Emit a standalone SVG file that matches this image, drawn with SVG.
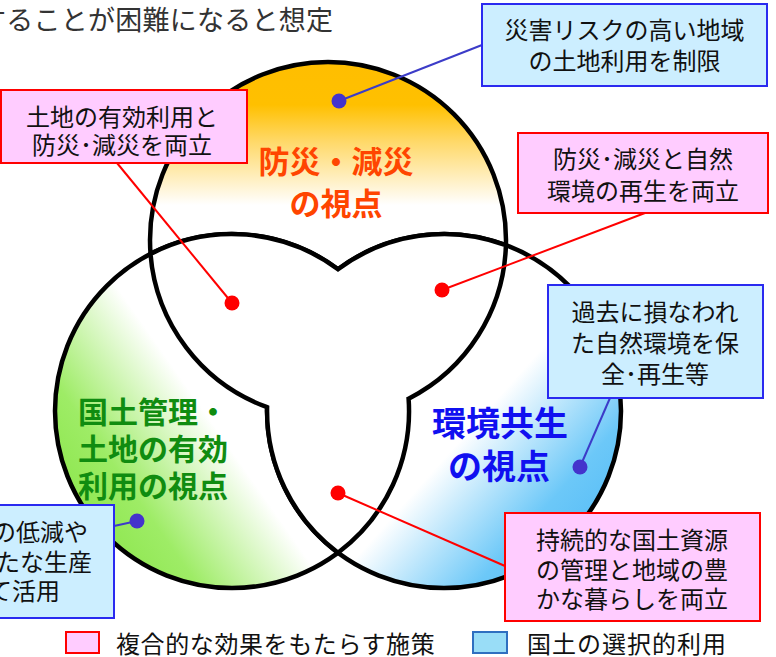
<svg xmlns="http://www.w3.org/2000/svg" width="776" height="657" viewBox="0 0 776 657">
<defs>
<linearGradient id="gT" gradientUnits="userSpaceOnUse" x1="0" y1="62" x2="0" y2="205">
<stop offset="0" stop-color="#FFBE00"/><stop offset="0.3" stop-color="#FFC000"/><stop offset="0.55" stop-color="#FFD866"/><stop offset="1" stop-color="#FFFFFF"/>
</linearGradient>
<linearGradient id="gL" gradientUnits="userSpaceOnUse" x1="60" y1="580" x2="260" y2="440">
<stop offset="0" stop-color="#7FE23A"/><stop offset="0.45" stop-color="#9EEC66"/><stop offset="0.88" stop-color="#FFFFFF"/>
</linearGradient>
<linearGradient id="gR" gradientUnits="userSpaceOnUse" x1="610" y1="580" x2="430" y2="420">
<stop offset="0" stop-color="#4AB6F6"/><stop offset="0.4" stop-color="#6CC8F8"/><stop offset="0.85" stop-color="#FFFFFF"/>
</linearGradient>
<style>
.c{stroke:#000;stroke-width:4.5}
.pk{fill:#FFCCFF;stroke:#FF0000;stroke-width:2}
.bl{fill:#CCEEFF;stroke:#2A2AF0;stroke-width:2}
.t{font-family:"Noto Sans CJK JP","Noto Sans",sans-serif;font-size:24px;fill:#111;text-anchor:middle}
.big{font-family:"Noto Sans CJK JP","Noto Sans",sans-serif;font-weight:bold;text-anchor:middle}
.rl{stroke:#FF0000;stroke-width:2;fill:none}
.bline{stroke:#3C3CC8;stroke-width:2;fill:none}
.rd{fill:#FF0000}
.bd{fill:#4433CC}
</style>
</defs>
<text x="-21" y="30" font-family="'Noto Sans CJK JP',serif" font-weight="normal" font-size="27" fill="#333" textLength="354">することが困難になると想定</text>
<g id="circles">
<circle id="circle-top" class="c" cx="328" cy="240" r="178" fill="url(#gT)"/>
<circle id="circle-left" class="c" cx="232" cy="411" r="177" fill="url(#gL)"/>
<circle id="circle-right" class="c" cx="444" cy="411" r="177" fill="url(#gR)"/>
<path id="overlap" class="c" fill="#FFFFFF" stroke-linejoin="miter" d="M150.5,253.9 A177,177 0 0 1 338,269.3 A177,177 0 0 1 505.9,245.2 A178,178 0 0 1 408.6,398.7 A177,177 0 0 1 338,552.7 A177,177 0 0 1 267.1,407.2 A178,178 0 0 1 150.5,253.9 Z"/>
</g>
<g id="labels">
<text class="big" x="336" y="173" font-size="31" fill="#FF4500">防災・減災</text>
<text class="big" x="336" y="215" font-size="31" fill="#FF4500">の視点</text>
<text class="big" x="153" y="423" font-size="30" fill="#108C10">国土管理・</text>
<text class="big" x="153" y="460" font-size="30" fill="#108C10">土地の有効</text>
<text class="big" x="153" y="497" font-size="30" fill="#108C10">利用の視点</text>
<text class="big" x="500" y="436" font-size="34" fill="#1010F0">環境共生</text>
<text class="big" x="499" y="479" font-size="34" fill="#1010F0">の視点</text>
</g>
<g id="connectors">
<line class="bline" x1="482" y1="45" x2="339" y2="101"/>
<line class="rl" x1="117" y1="163" x2="232" y2="303"/>
<line class="rl" x1="645" y1="213" x2="442" y2="290"/>
<line class="bline" x1="610" y1="398" x2="580" y2="467"/>
<line class="bline" x1="114" y1="526" x2="137" y2="521"/>
<line class="rl" x1="338" y1="493" x2="505" y2="566"/>
<circle class="bd" cx="339" cy="101" r="7.5"/>
<circle class="rd" cx="232" cy="303" r="7.5"/>
<circle class="rd" cx="442" cy="290" r="7.5"/>
<circle class="bd" cx="580" cy="467" r="7.5"/>
<circle class="bd" cx="137" cy="521" r="7.5"/>
<circle class="rd" cx="338" cy="493" r="7.5"/>
</g>
<g id="box-risk">
<rect class="bl" x="482" y="4" width="285" height="82"/>
<text class="t" x="624.5" y="39">災害リスクの高い地域</text>
<text class="t" x="624.5" y="70">の土地利用を制限</text>
</g>
<g id="box-landuse-disaster">
<rect class="pk" x="1" y="90" width="246" height="73"/>
<text class="t" x="122" y="126">土地の有効利用と</text>
<text class="t" x="122" y="154">防災･減災を両立</text>
</g>
<g id="box-disaster-env">
<rect class="pk" x="518" y="133" width="250" height="80"/>
<text class="t" x="643" y="168">防災･減災と自然</text>
<text class="t" x="643" y="200">環境の再生を両立</text>
</g>
<g id="box-restore">
<rect class="bl" x="548" y="285" width="215" height="113"/>
<text class="t" x="655" y="321">過去に損なわれ</text>
<text class="t" x="655" y="352">た自然環境を保</text>
<text class="t" x="655" y="383">全･再生等</text>
</g>
<g id="box-left">
<rect class="bl" x="-10" y="505" width="124" height="113"/>
<text class="t" x="88" y="541" style="text-anchor:end">の低減や</text>
<text class="t" x="92" y="571" style="text-anchor:end">たな生産</text>
<text class="t" x="60" y="600" style="text-anchor:end">て活用</text>
</g>
<g id="box-sustain">
<rect class="pk" x="505" y="513" width="255" height="108"/>
<text class="t" x="632" y="549">持続的な国土資源</text>
<text class="t" x="632" y="579">の管理と地域の豊</text>
<text class="t" x="632" y="608">かな暮らしを両立</text>
</g>
<g id="legend">
<rect class="pk" x="66" y="632" width="33" height="21"/>
<text class="t" x="116" y="653" style="text-anchor:start" letter-spacing="0.6">複合的な効果をもたらす施策</text>
<rect x="473" y="632" width="34" height="21" fill="#99DDF7" stroke="#2F6FC0" stroke-width="2"/>
<text class="t" x="527" y="653" style="text-anchor:start" letter-spacing="1">国土の選択的利用</text>
</g>
</svg>
